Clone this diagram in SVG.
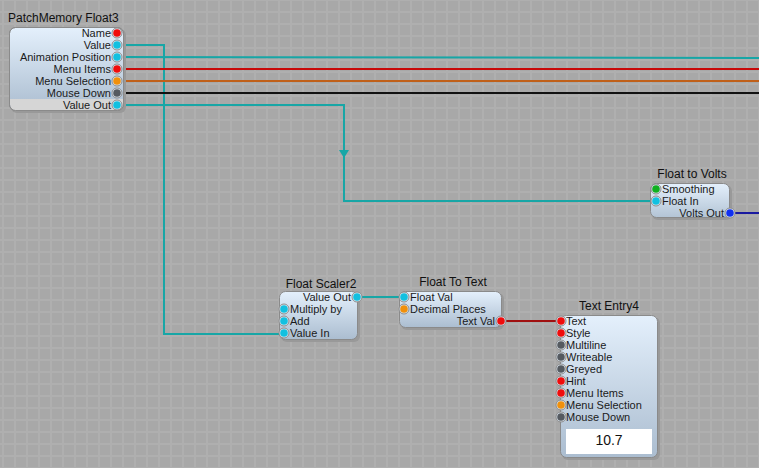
<svg xmlns="http://www.w3.org/2000/svg" width="759" height="468" viewBox="0 0 759 468">
<defs>
<pattern id="grid" x="2" y="11" width="12" height="12" patternUnits="userSpaceOnUse">
<rect width="12" height="12" fill="#a8a8a8"/>
<rect x="0" y="0" width="2" height="12" fill="#afafaf"/>
<rect x="0" y="0" width="12" height="2" fill="#afafaf"/>
</pattern>
<linearGradient id="ng" x1="0" y1="0" x2="0" y2="1">
<stop offset="0" stop-color="#e4f0fc"/>
<stop offset="1" stop-color="#abbdd0"/>
</linearGradient>
<linearGradient id="ngs" x1="0" y1="0" x2="0" y2="1">
<stop offset="0" stop-color="#e4f0fc"/>
<stop offset="1" stop-color="#b3c4d5"/>
</linearGradient>
<marker id="arr" viewBox="0 0 8 10" refX="4" refY="5" markerWidth="8" markerHeight="10" orient="auto" markerUnits="userSpaceOnUse">
<path d="M0,0 L8,5 L0,10 Z" fill="#17a6a6"/>
</marker>
</defs>
<style>
.title{font-family:"Liberation Sans",Arial,sans-serif;font-size:12px;fill:#111}
.lbl{font-family:"Liberation Sans",Arial,sans-serif;font-size:11px;fill:#1a1a1a}
.r{text-anchor:end}
.box{fill:url(#ng);stroke:#8a8a8a;stroke-width:1}
.shadow{fill:#999}
.notch{fill:#dfe9f3;stroke:#8a8a8a;stroke-width:1}
.w{fill:none;stroke-width:2}
.teal{stroke:#17a6a6}
.red{fill:#f00c0c}
.cyan{fill:#12c0e0}
.org{fill:#f0900c}
.gry{fill:#555a60}
.grn{fill:#10b020}
.blu{fill:#1030f0}
</style>
<rect width="759" height="468" fill="url(#grid)"/>

<g id="connectors">
<polyline class="w teal" points="117,45 164,45 164,334 284,334"/>
<polyline class="w teal" points="117,57 759,58"/>
<polyline class="w" stroke="#c80808" points="117,69 759,69"/>
<polyline class="w" stroke="#c0601a" points="117,81 759,81"/>
<polyline class="w" stroke="#111" points="117,93 759,93"/>
<polyline class="w teal" points="117,105 344,105 344,201 656,201"/>
<line x1="344" y1="140" x2="344" y2="154" stroke="#17a6a6" stroke-width="2" marker-end="url(#arr)"/>
<polyline class="w" stroke="#1a1aa0" points="730,213 759,213"/>
<polyline class="w teal" points="357,297 404,297"/>
<polyline class="w" stroke="#a01010" points="501,321 561,321"/>
</g>

<g id="patchmemory">
<text class="title" x="8" y="22">PatchMemory Float3</text>
<rect class="shadow" x="11" y="29" width="115" height="84" rx="6"/>
<rect class="box" x="9.5" y="27.5" width="114" height="83" rx="6"/>
<path d="M10,99 H123 V104 A6,6 0 0 1 117,110.5 H16 A6,6 0 0 1 10,104 Z" fill="#d6d6d6"/>
<rect x="9.5" y="27.5" width="114" height="83" rx="6" fill="none" stroke="#8a8a8a"/>
<text class="lbl r" x="111" y="37">Name</text>
<text class="lbl r" x="111" y="49">Value</text>
<text class="lbl r" x="111" y="61">Animation Position</text>
<text class="lbl r" x="111" y="73">Menu Items</text>
<text class="lbl r" x="111" y="85">Menu Selection</text>
<text class="lbl r" x="111" y="97">Mouse Down</text>
<text class="lbl r" x="111" y="109">Value Out</text>
<circle class="notch" cx="117" cy="33" r="5"/><circle class="red" cx="117" cy="33" r="3.8"/>
<circle class="notch" cx="117" cy="45" r="5"/><circle class="cyan" cx="117" cy="45" r="3.8"/>
<circle class="notch" cx="117" cy="57" r="5"/><circle class="cyan" cx="117" cy="57" r="3.8"/>
<circle class="notch" cx="117" cy="69" r="5"/><circle class="red" cx="117" cy="69" r="3.8"/>
<circle class="notch" cx="117" cy="81" r="5"/><circle class="org" cx="117" cy="81" r="3.8"/>
<circle class="notch" cx="117" cy="93" r="5"/><circle class="gry" cx="117" cy="93" r="3.8"/>
<circle class="notch" cx="117" cy="105" r="5"/><circle class="cyan" cx="117" cy="105" r="3.8"/>
</g>

<g id="floattovolts">
<text class="title" x="692" y="178" text-anchor="middle">Float to Volts</text>
<rect class="shadow" x="652" y="185" width="80" height="35" rx="6"/>
<rect x="650.5" y="183.5" width="79" height="34" rx="6" fill="url(#ngs)" stroke="#8a8a8a"/>
<text class="lbl" x="662" y="193">Smoothing</text>
<text class="lbl" x="662" y="205">Float In</text>
<text class="lbl r" x="724" y="217">Volts Out</text>
<circle class="notch" cx="656" cy="189" r="5"/><circle class="grn" cx="656" cy="189" r="3.8"/>
<circle class="notch" cx="656" cy="201" r="5"/><circle class="cyan" cx="656" cy="201" r="3.8"/>
<circle class="notch" cx="730" cy="213" r="5"/><circle class="blu" cx="730" cy="213" r="3.8"/>
</g>

<g id="floatscaler2">
<text class="title" x="321" y="288" text-anchor="middle">Float Scaler2</text>
<rect class="shadow" x="281" y="293" width="79" height="49" rx="6"/>
<rect class="box" x="279.5" y="291.5" width="78" height="48" rx="6"/>
<text class="lbl r" x="351" y="301">Value Out</text>
<text class="lbl" x="290" y="313">Multiply by</text>
<text class="lbl" x="290" y="325">Add</text>
<text class="lbl" x="290" y="337">Value In</text>
<circle class="notch" cx="357" cy="297" r="5"/><circle class="cyan" cx="357" cy="297" r="3.8"/>
<circle class="notch" cx="284" cy="309" r="5"/><circle class="cyan" cx="284" cy="309" r="3.8"/>
<circle class="notch" cx="284" cy="321" r="5"/><circle class="cyan" cx="284" cy="321" r="3.8"/>
<circle class="notch" cx="284" cy="333" r="5"/><circle class="cyan" cx="284" cy="333" r="3.8"/>
</g>

<g id="floattotext">
<text class="title" x="453" y="286" text-anchor="middle">Float To Text</text>
<rect class="shadow" x="401" y="293" width="103" height="37" rx="6"/>
<rect class="box" x="399.5" y="291.5" width="102" height="36" rx="6"/>
<text class="lbl" x="410" y="301">Float Val</text>
<text class="lbl" x="410" y="313">Decimal Places</text>
<text class="lbl r" x="495" y="325">Text Val</text>
<circle class="notch" cx="404" cy="297" r="5"/><circle class="cyan" cx="404" cy="297" r="3.8"/>
<circle class="notch" cx="404" cy="309" r="5"/><circle class="org" cx="404" cy="309" r="3.8"/>
<circle class="notch" cx="501" cy="321" r="5"/><circle class="red" cx="501" cy="321" r="3.8"/>
</g>

<g id="textentry4">
<text class="title" x="609" y="310" text-anchor="middle">Text Entry4</text>
<rect class="shadow" x="562" y="317" width="98" height="143" rx="6"/>
<rect class="box" x="560.5" y="315.5" width="97" height="142" rx="6"/>
<text class="lbl" x="566" y="325">Text</text>
<text class="lbl" x="566" y="337">Style</text>
<text class="lbl" x="566" y="349">Multiline</text>
<text class="lbl" x="566" y="361">Writeable</text>
<text class="lbl" x="566" y="373">Greyed</text>
<text class="lbl" x="566" y="385">Hint</text>
<text class="lbl" x="566" y="397">Menu Items</text>
<text class="lbl" x="566" y="409">Menu Selection</text>
<text class="lbl" x="566" y="421">Mouse Down</text>
<circle class="notch" cx="561" cy="321" r="5"/><circle class="red" cx="561" cy="321" r="3.8"/>
<circle class="notch" cx="561" cy="333" r="5"/><circle class="red" cx="561" cy="333" r="3.8"/>
<circle class="notch" cx="561" cy="345" r="5"/><circle class="gry" cx="561" cy="345" r="3.8"/>
<circle class="notch" cx="561" cy="357" r="5"/><circle class="gry" cx="561" cy="357" r="3.8"/>
<circle class="notch" cx="561" cy="369" r="5"/><circle class="gry" cx="561" cy="369" r="3.8"/>
<circle class="notch" cx="561" cy="381" r="5"/><circle class="red" cx="561" cy="381" r="3.8"/>
<circle class="notch" cx="561" cy="393" r="5"/><circle class="red" cx="561" cy="393" r="3.8"/>
<circle class="notch" cx="561" cy="405" r="5"/><circle class="org" cx="561" cy="405" r="3.8"/>
<circle class="notch" cx="561" cy="417" r="5"/><circle class="gry" cx="561" cy="417" r="3.8"/>
<rect x="566" y="429" width="86" height="25" fill="#fff"/>
<text x="609" y="445" text-anchor="middle" font-family="'Liberation Sans',Arial,sans-serif" font-size="14" fill="#111">10.7</text>
</g>
</svg>
